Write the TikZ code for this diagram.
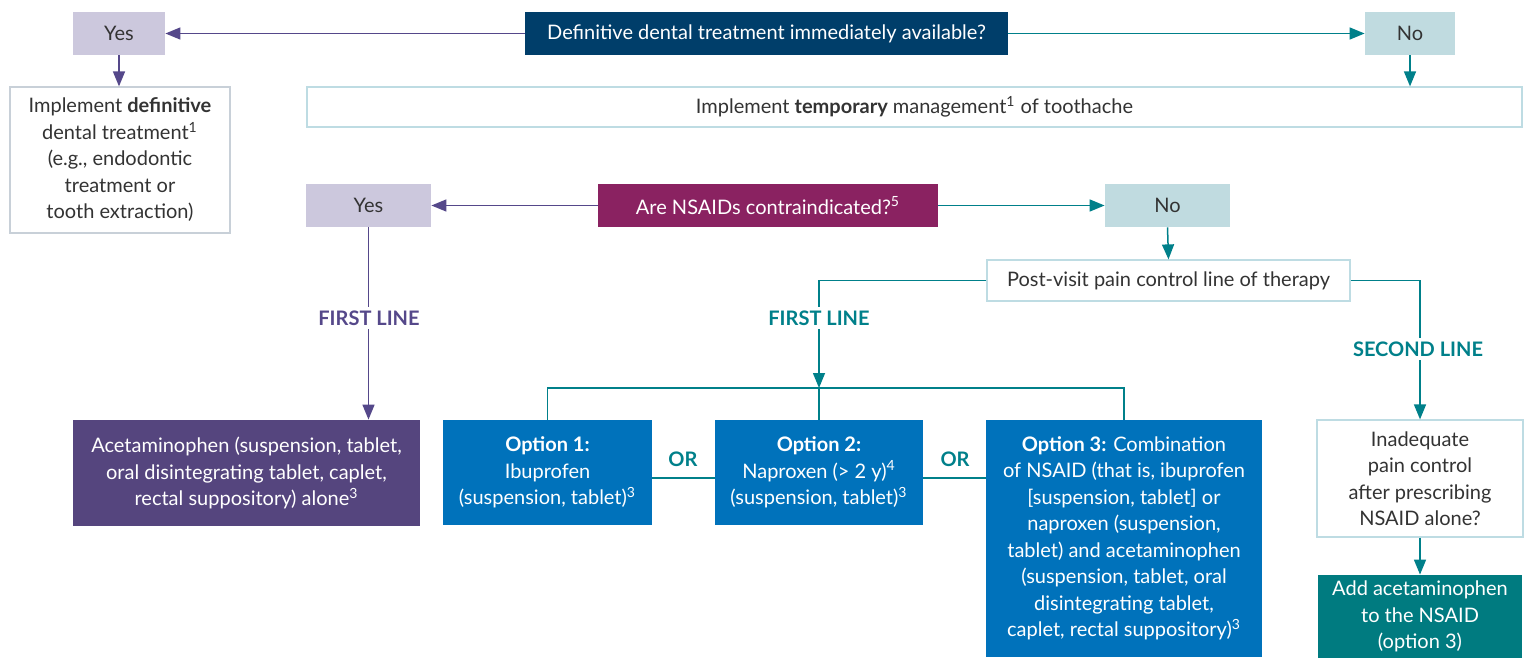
\documentclass[tikz,border=0pt]{standalone}
\usepackage{fontspec}
\setmainfont{Lato}
\usetikzlibrary{arrows.meta}
\definecolor{navy}{RGB}{0,62,106}
\definecolor{lav}{RGB}{204,200,221}
\definecolor{lteal}{RGB}{192,219,224}
\definecolor{pline}{RGB}{85,72,138}
\definecolor{tline}{RGB}{0,128,138}
\definecolor{magen}{RGB}{138,34,97}
\definecolor{acetp}{RGB}{85,69,126}
\definecolor{optblue}{RGB}{0,114,187}
\definecolor{addteal}{RGB}{0,123,128}
\definecolor{bgray}{RGB}{200,208,216}
\definecolor{bteal}{RGB}{190,220,227}
\definecolor{txt}{RGB}{51,51,51}
\newcommand{\sups}[1]{\textsuperscript{\scriptsize #1}}
\tikzset{
  base/.style={inner sep=0pt, align=center, font=\fontsize{10}{13.25}\selectfont},
  darkbox/.style={base, text=white},
  lightbox/.style={base, text=txt},
  outl/.style={lightbox, draw=#1, line width=0.6pt, fill=white},
  parr/.style={draw=pline, line width=0.75pt, -{Triangle[length=7.5pt,width=6pt]}},
  tarr/.style={draw=tline, line width=0.75pt, -{Triangle[length=7.5pt,width=6pt]}},
  tln/.style={draw=tline, line width=0.75pt},
  pln/.style={draw=pline, line width=0.75pt},
  lab/.style={font=\fontsize{10}{12}\selectfont\bfseries, fill=white, inner sep=2pt},
}
\begin{document}
\begin{tikzpicture}[x=0.5pt,y=-0.5pt]
\useasboundingbox (0,0) rectangle (1526,658);
% top row
\node[darkbox, fill=navy, minimum width=241.5pt, minimum height=21.5pt] (q1) at (766.5,33.5) {Definitive dental treatment immediately available?};
\node[lightbox, fill=lav, minimum width=46pt, minimum height=21.5pt] (yes1) at (119,33.5) {Yes};
\node[lightbox, fill=lteal, minimum width=45pt, minimum height=21.5pt] (no1) at (1410,33.5) {No};
\node[outl=bgray, minimum width=110pt, minimum height=73pt] (def) at (120,160) {Implement \textbf{definitive}\\dental treatment\sups{1}\\(e.g., endodontic\\treatment or\\tooth extraction)};
\node[outl=bteal, minimum width=607.5pt, minimum height=20pt] (temp) at (914.5,107) {Implement \textbf{temporary} management\sups{1} of toothache};
% second question
\node[darkbox, fill=magen, minimum width=170pt, minimum height=21.5pt] (q2) at (768,205.5) {Are NSAIDs contraindicated?\sups{5}};
\node[lightbox, fill=lav, minimum width=62.5pt, minimum height=21.5pt] (yes2) at (368.5,205.5) {Yes};
\node[lightbox, fill=lteal, minimum width=62.5pt, minimum height=21.5pt] (no2) at (1167.5,205.5) {No};
\node[outl=bteal, minimum width=181.5pt, minimum height=20.5pt] (post) at (1168.5,280.5) {Post-visit pain control line of therapy};
% bottom boxes
\node[darkbox, fill=acetp, minimum width=173.5pt, minimum height=53pt] (acet) at (246.5,473) {Acetaminophen (suspension, tablet,\\oral disintegrating tablet, caplet,\\rectal suppository) alone\sups{3}};
\node[darkbox, fill=optblue, minimum width=104.5pt, minimum height=52.5pt] (opt1) at (547.5,472.5) {\textbf{Option 1:}\\Ibuprofen\\(suspension, tablet)\sups{3}};
\node[darkbox, fill=optblue, minimum width=104pt, minimum height=52.5pt] (opt2) at (819,472.5) {\textbf{Option 2:}\\Naproxen (> 2 y)\sups{4}\\(suspension, tablet)\sups{3}};
\node[darkbox, fill=optblue, minimum width=138pt, minimum height=118.5pt] (opt3) at (1124,538.5) {\textbf{Option 3:} Combination\\of NSAID (that is, ibuprofen\\{[}suspension, tablet{]} or\\naproxen (suspension,\\tablet) and acetaminophen\\(suspension, tablet, oral\\disintegrating tablet,\\caplet, rectal suppository)\sups{3}};
\node[outl=bteal, minimum width=103pt, minimum height=58.5pt] (inad) at (1420,478.5) {Inadequate\\pain control\\after prescribing\\NSAID alone?};
\node[darkbox, fill=addteal, minimum width=102pt, minimum height=41.5pt] (add) at (1420,616.5) {Add acetaminophen\\to the NSAID\\(option 3)};
% connectors
\draw[parr] (q1.west) -- (yes1.east);
\draw[tarr] (q1.east) -- (no1.west);
\draw[parr] (yes1.south) -- (yes1.south |- def.north);
\draw[tarr] (no1.south) -- (no1.south |- temp.north);
\draw[parr] (q2.west) -- (yes2.east);
\draw[tarr] (q2.east) -- (no2.west);
\draw[tarr] (no2.south) -- (post.north);
\draw[parr] (yes2.south) -- (yes2.south |- acet.north);
\coordinate (j) at (819,388);
\draw[tarr] (post.west) -| (j);
\draw[tln] (j) -- (opt2.north);
\draw[tln] (opt1.north) -- (opt1.north |- j) -- (opt3.north |- j) -- (opt3.north);
\draw[tarr] (post.east) -| (inad.north);
\draw[tarr] (inad.south) -- (add.north);
\draw[tln] ([yshift=-2.75pt]opt1.east) -- ([yshift=-2.75pt]opt2.west);
\draw[tln] ([yshift=-2.75pt]opt2.east) -- ([yshift=-2.75pt]opt2.east -| opt3.west);
% labels
\node[lab, text=pline] (fl1) at (369,318) {FIRST LINE};
\node[lab, text=tline] (fl2) at (819,318) {FIRST LINE};
\node[lab, text=tline] (sl) at (1418,349) {SECOND LINE};
\node[lab, text=tline, fill=none] (or1) at (683,459) {OR};
\node[lab, text=tline, fill=none] (or2) at (955,459) {OR};
\end{tikzpicture}
\end{document}
